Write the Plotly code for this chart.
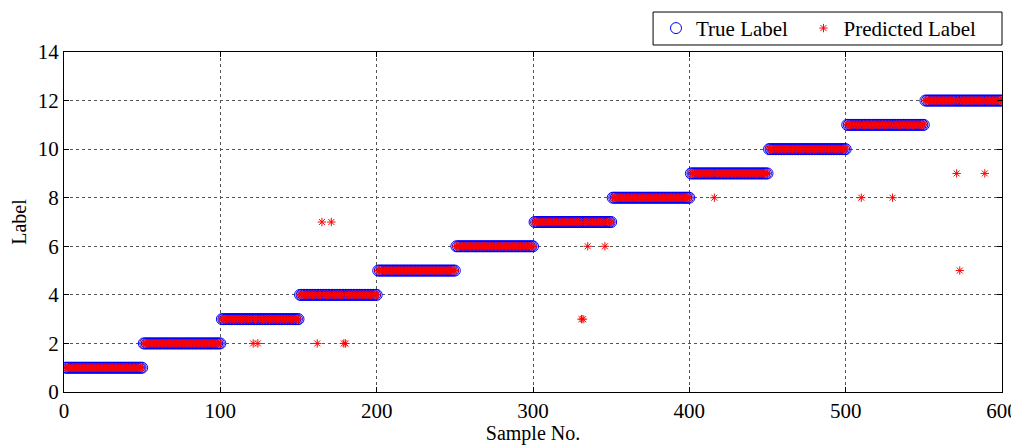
import numpy as np
import plotly.graph_objects as go

classes = [1, 2, 3, 4, 5, 6, 7, 8, 9, 10, 11, 12]
samples_per_class = 50

# misclassified samples: (sample no., predicted label)
mis_idx = [121, 124, 162, 179, 180, 165, 171, 331, 332, 335, 346, 416, 510, 530, 571, 589, 573]
mis_lab = [2, 2, 2, 2, 2, 7, 7, 3, 3, 6, 6, 8, 8, 8, 9, 9, 5]

x_ticks = [0, 100, 200, 300, 400, 500, 600]
y_ticks = [0, 2, 4, 6, 8, 10, 12, 14]

true_lab = []
for c in classes:
    true_lab += [c] * samples_per_class
sample_no = list(range(1, len(true_lab) + 1))
pred_lab = list(true_lab)
for i, v in zip(mis_idx, mis_lab):
    pred_lab[i - 1] = v

fam = "Liberation Serif, Times New Roman, serif"
font = dict(family=fam, size=21, color="black")
tfont = dict(family=fam, size=20, color="black")
nb = "\u00a0"

fig = go.Figure()
fig.add_trace(go.Scatter(
    x=sample_no, y=true_lab, mode="markers", name="True Label" + nb * 2,
    marker=dict(symbol="circle-open", size=11, color="#0000FF", line=dict(width=1, color="#0000FF")),
))
fig.add_trace(go.Scatter(
    x=sample_no, y=pred_lab, mode="markers", name="Predicted Label" + nb * 4,
    marker=dict(symbol="asterisk-open", size=7, color="#FF0000", line=dict(width=1, color="#FF0000")),
))

axis_common = dict(
    showline=True, linecolor="black", linewidth=1, mirror="ticks",
    ticks="inside", ticklen=5, tickcolor="black",
    showgrid=True, gridcolor="#555555", griddash="dot", gridwidth=1,
    zeroline=False, tickfont=font, automargin=False,
)
fig.update_xaxes(range=[0, 600], tickvals=x_ticks,
                 title=dict(text="Sample No.", font=tfont, standoff=8), **axis_common)
fig.update_yaxes(range=[0, 14], tickvals=y_ticks,
                 title=dict(text="Label", font=tfont, standoff=12), **axis_common)

# legend frame
fig.add_shape(type="rect", xref="paper", yref="paper",
              x0=0.628, x1=1.0, y0=1.0206, y1=1.1176,
              line=dict(color="black", width=1), fillcolor="rgba(0,0,0,0)", layer="above")

fig.update_layout(
    width=1011, height=437,
    margin=dict(l=56, r=17, t=44, b=53, autoexpand=False),
    paper_bgcolor="white", plot_bgcolor="white",
    font=font,
    showlegend=True,
    legend=dict(orientation="h", x=1, xanchor="right", y=1.009, yanchor="bottom",
                borderwidth=0, bgcolor="rgba(0,0,0,0)",
                font=font, itemsizing="trace"),
)

fig.write_html("out.html")
